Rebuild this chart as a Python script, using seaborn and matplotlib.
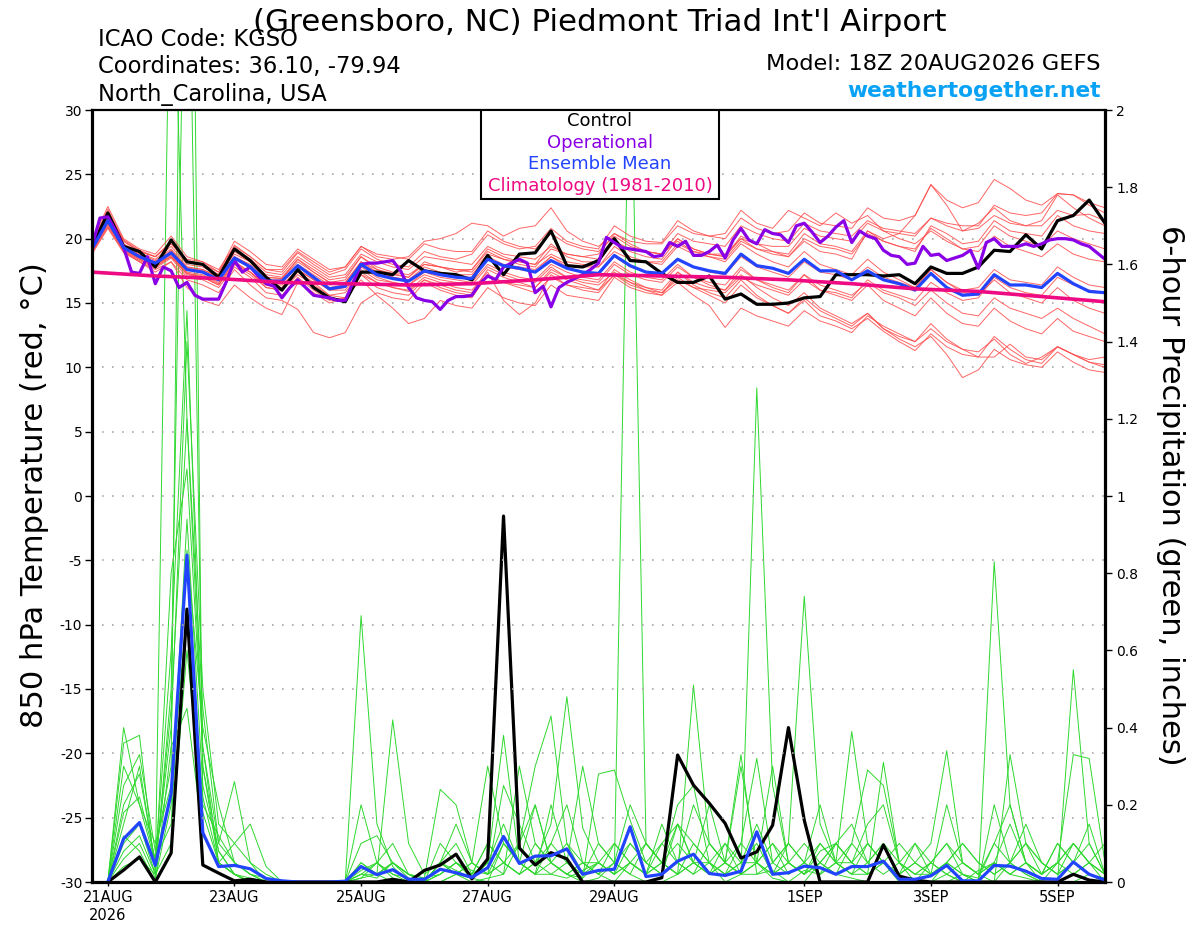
import numpy as np
import pandas as pd
import matplotlib
matplotlib.use('Agg')
import matplotlib.pyplot as plt
import matplotlib.patches as mpatches
import seaborn as sns

sns.set_style('white')
plt.rcParams['font.family'] = ['DejaVu Sans']
plt.rcParams['text.color'] = 'black'
plt.rcParams['axes.labelcolor'] = 'black'
plt.rcParams['xtick.color'] = 'black'
plt.rcParams['ytick.color'] = 'black'

## time axes (GEFS 18Z 20AUG2026 run)
t_temp = pd.date_range('2026-08-20 18:00', periods=65, freq='6h')
t_oper = pd.date_range('2026-08-20 18:00', periods=129, freq='3h')
t_prcp = pd.date_range('2026-08-21 00:00', periods=64, freq='6h')
t_clim = pd.date_range('2026-08-20 18:00', periods=17, freq='1D')

tick_dates = pd.to_datetime(['2026-08-21', '2026-08-23', '2026-08-25', '2026-08-27',
                             '2026-08-29', '2026-09-01', '2026-09-03', '2026-09-05'])
tick_labels = ['21AUG\n2026', '23AUG', '25AUG', '27AUG', '29AUG', '1SEP', '3SEP', '5SEP']

## 850 hPa temperature (C)
ctrl_temp = [19.3, 22.0, 19.4, 19.0, 17.8, 19.9, 18.2, 18.0, 17.0, 19.2, 18.3, 17.0, 16.0,
             17.6, 16.2, 15.4, 15.1, 17.4, 17.4, 17.2, 18.3, 17.5, 17.3, 17.2, 16.8, 18.7,
             17.2, 18.8, 18.9, 20.6, 17.9, 17.8, 18.3, 20.0, 18.3, 18.2, 17.3, 16.6, 16.6,
             17.1, 15.3, 15.7, 14.9, 14.9, 15.0, 15.4, 15.5, 17.2, 17.2, 17.2, 17.1, 17.2,
             16.5, 17.8, 17.3, 17.3, 17.8, 19.1, 19.0, 20.3, 19.2, 21.4, 21.8, 23.0, 21.2]

mean_temp = [19.2, 21.4, 19.3, 18.6, 18.1, 18.9, 17.6, 17.4, 16.8, 18.5, 17.8, 16.7, 16.7,
             17.9, 17.0, 16.1, 16.3, 18.0, 17.2, 16.9, 16.7, 17.5, 17.2, 17.0, 16.9, 18.4,
             17.9, 17.7, 17.4, 18.3, 17.7, 17.4, 17.3, 18.7, 17.9, 17.4, 17.3, 18.4, 17.8,
             17.5, 17.3, 18.8, 17.9, 17.7, 17.3, 18.4, 17.5, 17.5, 16.8, 17.5, 16.8, 16.5,
             16.0, 17.3, 16.2, 15.6, 15.7, 17.2, 16.4, 16.4, 16.2, 17.3, 16.5, 15.9, 15.8]

oper_temp = [19.4, 21.6, 21.7, 20.6, 19.3, 17.4, 17.3, 18.6, 16.5, 17.8, 17.5, 16.2, 16.6,
             15.6, 15.3, 15.3, 15.3, 16.7, 18.3, 17.4, 17.8, 17.1, 16.5, 16.3, 15.4, 16.2,
             16.8, 16.2, 15.6, 15.5, 15.4, 15.2, 15.2, 16.6, 18.0, 18.1, 18.1, 18.2, 18.3,
             17.5, 16.2, 15.4, 15.2, 15.1, 14.5, 15.2, 15.5, 15.5, 15.6, 16.5, 17.1, 16.8,
             17.8, 18.1, 18.4, 18.1, 15.8, 16.3, 14.7, 16.2, 16.6, 16.9, 17.2, 17.6, 18.1,
             20.1, 19.7, 19.3, 19.2, 19.1, 19.0, 18.6, 18.7, 19.7, 19.4, 19.8, 18.7, 18.7,
             19.0, 19.5, 18.5, 19.9, 20.8, 19.9, 19.6, 20.7, 20.4, 20.3, 19.7, 21.0, 21.2,
             20.5, 19.7, 20.2, 20.9, 21.4, 19.7, 20.6, 20.2, 20.0, 19.1, 18.7, 18.6, 18.0,
             18.1, 19.4, 18.7, 18.8, 18.3, 18.5, 18.7, 19.1, 17.7, 19.7, 20.0, 19.4, 19.4,
             19.4, 19.6, 19.4, 19.6, 19.9, 20.0, 20.0, 19.9, 19.6, 19.4, 18.9, 18.4]

clim_temp = [17.4, 17.1, 16.9, 16.6, 16.5, 16.4, 16.5, 16.8, 17.2,
             17.1, 17.0, 16.8, 16.5, 16.1, 15.9, 15.5, 15.1]

m01 = [19.6, 22.3, 19.8, 19.0, 18.6, 19.8, 18.3, 18.0, 17.2, 19.5, 18.6, 17.6, 17.4,
       18.9, 18.0, 17.2, 17.6, 19.2, 18.4, 18.0, 17.8, 19.0, 18.6, 18.4, 18.8, 20.3,
       19.6, 19.2, 19.4, 20.8, 19.8, 19.4, 19.2, 21.0, 20.2, 19.8, 19.7, 21.4, 20.6,
       20.2, 20.0, 21.6, 20.8, 20.4, 20.6, 22.0, 21.2, 21.0, 20.8, 22.4, 21.6, 21.4,
       21.8, 24.2, 23.0, 22.4, 22.8, 24.6, 23.9, 23.0, 22.6, 23.5, 23.4, 22.6, 22.0]
m02 = [19.0, 21.0, 19.1, 18.4, 17.8, 18.6, 17.2, 17.0, 16.4, 18.0, 17.4, 16.2, 16.0,
       17.4, 16.6, 15.6, 15.4, 17.2, 16.6, 16.2, 15.9, 16.8, 16.4, 16.0, 15.8, 17.6,
       17.0, 16.6, 16.2, 17.4, 16.8, 16.4, 16.0, 17.6, 16.8, 16.2, 15.8, 17.0, 16.2,
       15.6, 15.0, 16.4, 15.4, 14.8, 14.2, 15.4, 14.4, 13.8, 13.2, 14.2, 13.0, 12.2,
       11.6, 12.4, 11.0, 9.2, 9.8, 11.4, 10.6, 10.2, 10.0, 11.2, 10.4, 9.8, 9.6]
m03 = [19.4, 21.8, 19.5, 18.8, 18.3, 19.2, 17.8, 17.6, 17.0, 19.0, 18.2, 17.0, 16.9,
       18.4, 17.4, 16.6, 16.8, 18.6, 17.6, 17.3, 17.0, 18.2, 17.8, 17.4, 17.6, 19.2,
       18.6, 18.2, 18.0, 19.6, 18.6, 18.2, 18.2, 19.8, 19.0, 18.6, 18.4, 20.0, 19.2,
       18.8, 18.6, 20.2, 19.6, 19.0, 18.8, 20.4, 19.6, 19.4, 19.0, 20.6, 19.8, 19.4,
       19.0, 21.0, 20.4, 19.6, 19.8, 21.4, 20.6, 20.4, 20.2, 21.8, 21.0, 20.6, 20.4]
m04 = [18.8, 20.8, 18.9, 18.2, 17.6, 18.2, 16.8, 16.4, 15.8, 17.6, 16.4, 15.4, 15.2,
       14.5, 12.7, 12.3, 12.7, 15.0, 15.8, 15.4, 15.2, 16.6, 16.0, 15.6, 15.4, 17.2,
       16.6, 16.2, 15.8, 17.0, 16.4, 16.0, 15.8, 17.2, 16.6, 16.2, 16.0, 17.4, 16.6,
       16.2, 16.0, 17.6, 16.8, 16.4, 16.0, 17.2, 16.4, 16.0, 15.6, 16.6, 15.8, 15.4,
       14.8, 16.0, 15.0, 14.2, 14.0, 15.4, 14.6, 14.2, 13.8, 14.6, 13.8, 13.2, 12.6]
m05 = [19.8, 22.5, 20.0, 19.2, 18.8, 20.2, 18.6, 18.2, 17.4, 19.8, 19.0, 18.0, 17.8,
       19.2, 18.4, 17.6, 17.8, 19.4, 18.6, 18.4, 18.6, 19.8, 20.0, 20.4, 21.2, 21.0,
       20.2, 20.8, 21.0, 22.4, 20.6, 19.8, 19.4, 20.4, 19.6, 19.0, 18.8, 19.8, 19.0,
       18.6, 18.2, 19.6, 18.8, 18.2, 17.8, 19.0, 18.0, 17.6, 17.2, 18.4, 17.4, 16.8,
       16.2, 17.6, 16.6, 15.8, 15.6, 16.8, 15.8, 15.4, 15.0, 16.2, 15.2, 14.6, 14.2]
m06 = [19.0, 21.2, 19.0, 18.2, 17.4, 18.2, 16.2, 15.2, 14.8, 16.4, 15.4, 14.6, 14.1,
       16.6, 15.8, 15.0, 15.4, 16.8, 15.6, 14.6, 13.4, 13.8, 15.2, 14.8, 14.6, 16.2,
       15.4, 15.0, 14.8, 16.4, 15.6, 15.4, 15.2, 17.0, 16.2, 15.8, 15.6, 17.4, 16.4,
       15.8, 15.4, 16.8, 15.6, 14.8, 14.2, 15.2, 14.0, 13.6, 13.0, 13.8, 12.8, 12.0,
       11.3, 12.6, 11.6, 11.0, 10.8, 12.4, 11.4, 10.6, 10.3, 11.6, 11.0, 10.6, 10.8]
m07 = [19.2, 21.6, 19.4, 18.7, 18.2, 19.0, 17.7, 17.5, 16.9, 18.6, 17.9, 16.8, 16.8,
       18.0, 17.2, 16.4, 16.6, 18.2, 17.6, 17.2, 17.0, 18.0, 17.8, 17.6, 17.4, 18.8,
       18.4, 18.0, 17.8, 19.2, 18.8, 18.6, 18.8, 20.4, 19.8, 19.6, 19.6, 21.0, 20.4,
       20.2, 20.4, 22.2, 21.2, 20.8, 22.2, 21.6, 21.0, 22.0, 21.2, 21.8, 20.6, 20.0,
       19.6, 20.6, 19.8, 19.2, 19.0, 20.2, 19.4, 19.0, 18.6, 19.6, 18.8, 18.4, 18.2]
m08 = [19.3, 21.4, 19.2, 18.5, 17.9, 18.8, 17.4, 17.2, 16.6, 18.2, 17.4, 16.4, 16.4,
       17.6, 16.8, 16.0, 16.0, 17.6, 16.8, 16.6, 16.4, 17.2, 16.8, 16.6, 16.4, 17.8,
       17.2, 16.8, 16.6, 17.8, 17.0, 16.6, 16.4, 17.4, 16.6, 16.0, 15.6, 16.6, 15.6,
       14.8, 13.1, 14.6, 14.0, 13.6, 13.2, 14.4, 13.6, 13.2, 12.7, 14.0, 13.2, 12.6,
       12.0, 13.4, 12.2, 11.4, 10.8, 10.8, 11.8, 10.8, 10.6, 11.6, 11.0, 10.4, 10.2]
m09 = [19.5, 21.9, 19.6, 18.9, 18.4, 19.4, 18.0, 17.8, 17.2, 18.8, 18.2, 17.2, 17.0,
       18.4, 17.6, 16.8, 17.0, 18.6, 17.8, 17.4, 17.2, 18.0, 17.8, 17.6, 17.6, 19.0,
       18.4, 18.2, 18.0, 18.8, 18.2, 18.0, 17.8, 19.4, 18.6, 18.2, 18.0, 19.4, 18.8,
       18.6, 18.4, 19.8, 19.2, 19.0, 18.6, 20.0, 19.4, 19.2, 18.8, 20.4, 19.8, 19.4,
       19.2, 20.8, 20.0, 19.2, 19.4, 21.0, 20.2, 19.8, 19.4, 20.6, 20.0, 19.6, 19.2]
m10 = [18.9, 20.9, 19.0, 18.3, 17.7, 18.5, 17.0, 16.8, 16.2, 17.8, 17.0, 15.8, 15.6,
       17.0, 16.0, 15.2, 15.4, 17.2, 16.2, 15.8, 15.6, 16.8, 16.2, 15.8, 15.6, 17.2,
       16.6, 16.4, 16.2, 17.6, 17.0, 16.8, 16.6, 18.0, 17.2, 16.8, 16.6, 17.8, 17.0,
       16.6, 16.4, 17.8, 16.8, 16.2, 15.8, 17.2, 16.0, 15.6, 15.2, 16.4, 15.2, 14.6,
       14.0, 15.4, 14.2, 13.4, 13.2, 14.6, 13.6, 13.0, 12.6, 13.8, 12.8, 12.4, 12.0]
m11 = [19.6, 22.0, 19.8, 19.0, 18.6, 19.6, 18.4, 18.2, 17.6, 19.4, 18.6, 17.6, 17.6,
       19.0, 18.2, 17.4, 17.8, 19.4, 18.8, 18.6, 18.4, 19.6, 19.2, 19.0, 19.0, 20.6,
       19.8, 19.4, 19.2, 20.4, 19.6, 19.2, 19.0, 20.2, 19.4, 19.0, 18.8, 20.0, 19.2,
       18.8, 18.6, 20.0, 19.2, 18.8, 18.6, 19.8, 19.0, 18.8, 18.4, 20.6, 20.0, 20.4,
       21.8, 24.2, 22.6, 20.6, 21.2, 22.4, 21.4, 21.0, 21.4, 23.4, 22.4, 21.6, 21.0]
m12 = [19.1, 21.2, 19.2, 18.5, 18.0, 18.6, 17.3, 17.0, 16.4, 18.0, 17.2, 16.2, 16.0,
       17.2, 16.4, 15.6, 15.8, 17.4, 16.6, 16.2, 16.0, 17.0, 16.6, 16.2, 16.0, 17.4,
       15.2, 14.1, 15.0, 17.2, 16.4, 16.2, 16.0, 17.2, 16.4, 16.0, 15.8, 16.8, 16.2,
       16.0, 15.8, 17.0, 16.4, 16.0, 15.6, 16.8, 16.0, 15.8, 15.4, 16.8, 16.0, 15.6,
       15.2, 16.6, 15.8, 15.2, 15.4, 17.0, 16.2, 15.8, 15.6, 17.0, 16.4, 16.0, 15.8]
m13 = [19.4, 21.7, 19.4, 18.7, 18.2, 19.0, 17.6, 17.4, 16.8, 18.4, 17.8, 16.8, 16.6,
       17.8, 17.0, 16.2, 16.4, 18.0, 17.4, 17.0, 16.8, 17.6, 17.2, 17.0, 17.0, 18.4,
       17.8, 17.6, 17.4, 18.6, 18.0, 17.8, 17.8, 19.0, 18.4, 18.2, 18.2, 19.6, 19.0,
       18.8, 18.8, 20.0, 19.6, 19.4, 19.4, 20.8, 20.2, 20.0, 19.8, 21.2, 20.6, 20.4,
       20.2, 21.6, 21.2, 21.0, 21.0, 22.6, 22.0, 21.8, 22.0, 23.5, 23.4, 22.8, 22.4]
m14 = [19.0, 21.1, 19.1, 18.4, 17.8, 18.7, 17.3, 17.1, 16.5, 18.2, 17.4, 16.4, 16.2,
       17.6, 16.8, 16.0, 16.2, 17.8, 17.0, 16.6, 16.4, 17.4, 17.0, 16.8, 16.6, 18.0,
       17.4, 17.0, 16.8, 18.0, 17.4, 17.0, 16.8, 18.2, 17.4, 17.0, 16.8, 18.0, 17.0,
       16.4, 16.0, 17.2, 16.2, 15.4, 14.8, 15.8, 14.6, 14.0, 13.4, 14.2, 13.0, 12.4,
       12.0, 13.0, 12.0, 11.4, 11.2, 12.2, 11.0, 10.3, 10.8, 11.6, 11.0, 10.4, 10.0]
m15 = [19.3, 21.5, 19.3, 18.6, 18.1, 19.1, 17.8, 17.6, 17.0, 18.6, 18.0, 17.0, 16.9,
       18.2, 17.4, 16.6, 16.6, 18.2, 17.4, 17.0, 16.8, 17.8, 17.4, 17.2, 17.2, 18.6,
       18.0, 17.8, 17.6, 18.6, 17.8, 17.4, 17.2, 18.6, 17.8, 17.4, 17.2, 18.4, 17.8,
       17.4, 17.2, 18.6, 17.8, 17.4, 17.0, 18.2, 17.4, 17.2, 16.8, 17.8, 17.0, 16.6,
       16.2, 17.6, 16.6, 16.0, 16.2, 17.6, 16.8, 16.6, 16.4, 17.8, 17.0, 16.4, 16.2]
m16 = [19.7, 22.1, 19.9, 19.1, 18.6, 19.6, 18.2, 18.0, 17.4, 19.2, 18.4, 17.4, 17.2,
       18.6, 17.8, 17.0, 17.2, 18.8, 18.2, 17.8, 17.6, 18.6, 18.4, 18.2, 18.0, 19.4,
       18.8, 18.6, 18.4, 19.4, 18.8, 18.6, 18.4, 19.8, 19.2, 19.0, 18.8, 20.4, 19.8,
       19.6, 19.4, 21.0, 20.4, 20.0, 19.8, 21.2, 20.6, 20.4, 20.2, 21.4, 20.8, 20.6,
       20.4, 21.6, 21.0, 20.6, 20.8, 21.8, 21.2, 21.0, 21.0, 22.2, 21.8, 21.9, 21.4]
temp_members = [m01, m02, m03, m04, m05, m06, m07, m08, m09, m10, m11, m12, m13, m14, m15, m16]

## 6-hour precipitation (inches)
ctrl_prcp = [0, .031, .065, 0, .075, .707, .044, .023, .003, .007, 0, 0, 0, 0, 0, 0,
             0, 0, .007, 0, .03, .044, .072, .008, .06, .948, .088, .044, .076, .06, 0, 0,
             0, 0, 0, .011, .329, .251, .204, .152, .062, .078, .147, .40, .16, 0, 0, 0,
             0, .096, .015, .005, 0, 0, 0, 0, 0, 0, 0, 0, 0, .02, .005, 0]
mean_prcp = [0, .112, .154, .043, .23, .847, .128, .04, .043, .034, .009, .003, 0, 0, 0, .002,
             .04, .019, .032, .007, .007, .033, .024, .012, .037, .118, .048, .067, .068, .086, .02, .03,
             .033, .143, .014, .02, .054, .072, .022, .017, .028, .13, .02, .024, .041, .037, .02, .04,
             .04, .054, .007, .007, .016, .043, .003, .003, .043, .041, .028, .009, .007, .052, .02, .005]

g01 = [0, .40, .20, .05, .60, 1.48, .30, .05, .02, 0, 0, 0, 0, 0, 0, 0,
       .04, .02, 0, 0, 0, .02, .05, .01, 0, .10, .05, .02, .10, .05, .01, .28,
       .29, .16, .05, .02, .15, .10, .05, 0, .02, .05, .01, 0, .03, .02, .05, .39,
       .10, .05, 0, 0, 0, .05, .02, 0, 0, .05, .02, 0, 0, .02, .05, 0]
g02 = [0, .36, .38, .02, 2.6, 1.20, .45, .10, .26, .05, 0, 0, 0, 0, 0, 0,
       .69, .15, .04, 0, 0, 0, .02, 0, .01, .02, .30, .10, .05, .02, 0, .01,
       .05, .02, 0, 0, .02, .51, .10, .05, .33, .02, .03, 0, 0, .05, .02, .01,
       0, 0, 0, 0, 0, 0, .02, 0, .83, .20, .05, 0, 0, 0, .02, 0]
g03 = [0, .25, .33, .08, .30, 4.0, .20, .12, .05, .02, 0, 0, 0, 0, 0, 0,
       .02, .02, .42, .10, .02, .05, .03, .01, .05, .38, .05, .02, .02, .01, .03, .05,
       .02, 2.3, .10, .05, .02, .05, .02, .10, .02, 1.28, .25, .05, .02, .08, .10, .05,
       .02, .31, .05, 0, 0, .02, 0, .03, .05, .02, .01, 0, 0, .55, .10, .02]
g04 = [0, .20, .28, .05, .40, 1.40, .50, .15, .10, .05, .02, 0, 0, 0, 0, 0,
       .20, .05, .10, .02, .01, .24, .20, .05, .02, .05, .10, .30, .43, .10, .02, .05,
       .10, .05, .02, .10, .15, .05, .02, .05, .30, .05, .02, .10, .74, .15, .05, .02,
       .10, .05, .02, .05, .10, .34, .05, .02, 0, .33, .10, .05, .02, .05, .02, .01]
g05 = [0, .10, .15, .02, .80, 1.07, .35, .05, .02, 0, 0, 0, 0, 0, 0, 0,
       .05, .02, .05, .02, 0, .02, .05, .02, .10, .05, .02, .05, .15, .48, .14, .05,
       .02, .05, .10, .05, .02, .05, .05, .02, .10, .05, .30, .05, .02, .05, .02, .10,
       .29, .25, .05, .02, .05, .02, 0, 0, .20, .05, .02, 0, .05, .33, .32, .05]
g06 = [0, .06, .10, .01, .20, .94, .25, .08, .02, .01, 0, 0, 0, 0, 0, 0,
       .01, .05, .02, 0, 0, .10, .05, .03, .02, .05, .02, .10, .05, .02, .05, .02,
       0, .05, .02, .15, .05, .02, .10, .05, .02, .02, .05, .10, .05, .02, .05, .10,
       .05, .10, .02, 0, .05, .10, .02, .01, .10, .05, .15, .05, .02, .10, .05, .02]
g07 = [0, .18, .22, .06, .15, .86, .40, .20, .05, .02, .01, 0, 0, 0, 0, 0,
       .02, .01, .05, .01, 0, .05, .10, .02, .05, .15, .05, .02, .20, .05, .02, .10,
       .05, .20, .10, .05, .15, .05, .02, .05, .10, .32, .05, .02, .05, .10, .05, .02,
       .05, .02, .05, .10, .02, .05, .02, 0, .05, .15, .05, .02, .10, .05, .02, 0]
g08 = [0, .04, .06, .02, .10, .60, .18, .05, .10, .15, .04, 0, 0, 0, 0, 0,
       .10, .12, .05, .02, 0, .05, .15, .05, .30, .10, .05, .02, .05, .02, .01, .05,
       .02, .10, .05, .02, .05, .20, .10, .05, .02, .05, .10, .05, .02, .10, .05, .05,
       .15, .20, .05, .02, .05, .10, .05, .02, .05, .02, .05, .02, .10, .05, .15, .02]
g09 = [0, .12, .08, 0, .35, .45, .12, .05, .02, 0, 0, 0, 0, 0, 0, 0,
       .03, .05, .02, .01, 0, 0, .02, .05, .02, .25, .15, .05, .10, .20, .05, .02,
       .10, .05, .02, .05, .10, .05, .20, .05, .02, .05, .02, .05, .10, .05, .10, .05,
       .02, .05, .10, .05, .02, .20, .05, .02, .05, .02, .05, .02, .05, .10, .05, .02]
g10 = [0, .08, .12, .02, .50, 2.8, .30, .08, .02, 0, 0, 0, 0, 0, 0, 0,
       .02, .05, .01, 0, 0, .05, .02, .01, .05, .02, .10, .20, .05, .10, .05, .02,
       .05, .02, .10, .05, .02, .10, .05, .02, .05, .10, .02, .05, .02, .05, .10, .05,
       .10, .05, .02, .05, .02, .05, .10, .05, .02, .05, .10, .05, .02, .05, .10, .02]
g11 = [0, .30, .20, .10, .25, .70, .22, .05, .02, 0, 0, 0, 0, 0, 0, 0,
       .01, .02, .05, .02, .01, .02, .05, .02, .10, .05, .02, .05, .02, .05, .30, .10,
       .05, .10, .05, .10, .05, .02, .05, .10, .05, .15, .05, .10, .05, .02, .10, .15,
       .05, .10, .05, .02, .02, .05, .10, .05, .02, .05, .10, .02, .05, .02, .05, .10]
g12 = [0, .15, .30, .04, .45, 1.20, .35, .10, .05, .02, 0, 0, 0, 0, 0, 0,
       .05, .02, .05, .02, 0, .05, .02, .05, .02, .10, .05, .20, .05, .02, .05, .05,
       .02, .05, .02, .05, .20, .25, .05, .02, .05, .05, .10, .02, .05, .20, .05, .02,
       .02, .05, .02, .10, .05, .02, .05, .02, .10, .20, .05, .02, .05, .10, .05, .02]
prcp_members = [g01, g02, g03, g04, g05, g06, g07, g08, g09, g10, g11, g12]

## long tables for seaborn
df_temp = pd.concat([pd.DataFrame({'time': t_temp, 'temp': m, 'member': n})
                     for n, m in enumerate(temp_members)], ignore_index=True)
df_prcp = pd.concat([pd.DataFrame({'time': t_prcp, 'prcp': g, 'member': n})
                     for n, g in enumerate(prcp_members)], ignore_index=True)

RED = '#ff4a4a'
GREEN = '#2fd82f'
PURPLE = '#8a00e6'
BLUE = '#2244ff'
PINK = '#ee0a82'

fig = plt.figure(figsize=(12, 9.27), dpi=100)
ax = fig.add_axes([92/1200, 45/927, 1013/1200, 772/927])
ax2 = ax.twinx()
ax.set_zorder(ax2.get_zorder() + 1)
ax.patch.set_visible(False)

## precipitation (right axis, behind)
sns.lineplot(data=df_prcp, x='time', y='prcp', units='member', estimator=None,
             color=GREEN, linewidth=0.7, ax=ax2, legend=False)
sns.lineplot(x=t_prcp, y=ctrl_prcp, color='black', linewidth=2.3, ax=ax2)
sns.lineplot(x=t_prcp, y=mean_prcp, color=BLUE, linewidth=2.3, ax=ax2)

## temperature (left axis)
sns.lineplot(data=df_temp, x='time', y='temp', units='member', estimator=None,
             color=RED, linewidth=0.7, alpha=0.85, ax=ax, legend=False)
sns.lineplot(x=t_temp, y=ctrl_temp, color='black', linewidth=2.3, ax=ax)
sns.lineplot(x=t_oper, y=oper_temp, color=PURPLE, linewidth=2.3, ax=ax)
sns.lineplot(x=t_temp, y=mean_temp, color=BLUE, linewidth=2.3, ax=ax)
sns.lineplot(x=t_clim, y=clim_temp, color=PINK, linewidth=2.6, ax=ax)

ax.set_xlim(t_temp[0], t_temp[-1])
ax.set_ylim(-30, 30)
ax2.set_ylim(0, 2)

ax.set_yticks(range(-30, 31, 5))
ax.set_yticklabels([str(v) for v in range(-30, 31, 5)])
p_ticks = np.round(np.arange(0, 2.01, 0.2), 1)
ax2.set_yticks(p_ticks)
ax2.set_yticklabels(['%g' % v for v in p_ticks])
ax.set_xticks(tick_dates)
ax.set_xticklabels(tick_labels)

ax.yaxis.grid(True, linestyle=(0, (1, 5)), color='#a8a8a8', linewidth=1.2)
ax.xaxis.grid(False)
ax2.grid(False)

ax.tick_params(axis='y', left=True, direction='out', length=5, width=1, labelsize=10, pad=2)
ax.tick_params(axis='x', bottom=True, direction='out', length=3, width=1, labelsize=10.5, pad=3)
ax2.tick_params(axis='y', right=True, direction='out', length=5, width=1, labelsize=10, pad=3)

for s in ['left', 'bottom', 'right']:
    ax.spines[s].set_linewidth(2.3)
ax.spines['top'].set_linewidth(1.6)
for s in ax.spines.values():
    s.set_color('black')
for s in ax2.spines.values():
    s.set_visible(False)

ax.set_xlabel('')
ax2.set_xlabel('')
ax.set_ylabel('850 hPa Temperature (red, °C)', fontsize=22)
ax.yaxis.set_label_coords(-0.0425, 0.501)
ax2.set_ylabel('6-hour Precipitation (green, inches)', fontsize=22, rotation=-90)
ax2.yaxis.set_label_coords(1.065, 0.501)
ax2.yaxis.label.set_va('center')

## legend box
ax.add_patch(mpatches.Rectangle((0.3836, 0.8851), 0.2356, 0.1149, transform=ax.transAxes,
                                facecolor='white', edgecolor='black', linewidth=1.5, zorder=10))
leg_items = [('Control', 'black', 0.9861), ('Operational', PURPLE, 0.9577),
             ('Ensemble Mean', BLUE, 0.9301), ('Climatology (1981-2010)', PINK, 0.9019)]
for txt, col, yy in leg_items:
    ax.text(0.5015, yy, txt, color=col, fontsize=13, ha='center', va='center',
            transform=ax.transAxes, zorder=11)

## header
fig.text(0.5, 1 - 31/927, "(Greensboro, NC) Piedmont Triad Int'l Airport",
         ha='center', va='baseline', fontsize=22.3)
fig.text(98/1200, 1 - 46/927, 'ICAO Code: KGSO', ha='left', va='baseline', fontsize=16.3)
fig.text(98/1200, 1 - 73.5/927, 'Coordinates: 36.10, -79.94', ha='left', va='baseline', fontsize=16.3)
fig.text(98/1200, 1 - 100.5/927, 'North_Carolina, USA', ha='left', va='baseline', fontsize=16.3)
fig.text(1101/1200, 1 - 70.5/927, 'Model: 18Z 20AUG2026 GEFS', ha='right', va='baseline', fontsize=16.2)
fig.text(1101/1200, 1 - 97/927, 'weathertogether.net', ha='right', va='baseline',
         fontsize=15.7, fontweight='bold', color='#0aa2f5')

fig.savefig('out.png', dpi=100, facecolor='white')
